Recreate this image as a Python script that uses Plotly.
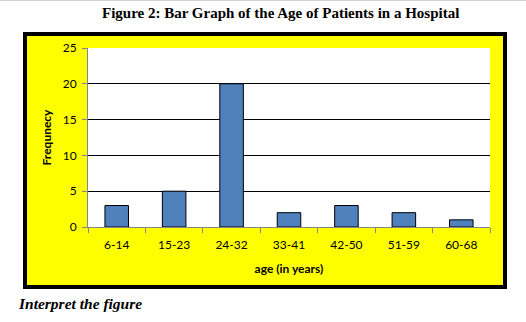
import plotly.graph_objects as go

age_groups = ["6-14", "15-23", "24-32", "33-41", "42-50", "51-59", "60-68"]
frequency = [3, 5, 20, 2, 3, 2, 1]
y_ticks = [0, 5, 10, 15, 20, 25]

W, H = 526, 322
L, R, T, B = 88, 36, 48, 95
pw, ph = W - L - R, H - T - B

def px(x):
    return (x - L) / pw

def py(y):
    return (H - B - y) / ph

fig = go.Figure(go.Bar(
    x=age_groups, y=frequency,
    marker=dict(color="#4F81BD", line=dict(color="black", width=1)),
    width=0.41,
))

fig.update_layout(
    width=W, height=H,
    margin=dict(l=L, r=R, t=T, b=B, pad=0),
    paper_bgcolor="white", plot_bgcolor="white",
    showlegend=False,
    font=dict(family="Lato", size=12, color="black"),
    shapes=[
        dict(type="rect", xref="paper", yref="paper",
             x0=px(25), x1=px(505), y0=py(287), y1=py(34),
             fillcolor="#FFFF00", line=dict(color="black", width=4), layer="below"),
        dict(type="rect", xref="paper", yref="paper",
             x0=0, x1=1, y0=0, y1=1,
             fillcolor="white", line=dict(width=0), layer="below"),
        dict(type="line", xref="paper", yref="paper",
             x0=px(0), x1=px(526), y0=py(0.5), y1=py(0.5),
             line=dict(color="#D0D0D0", width=1)),
    ],
    annotations=[
        dict(text="<b>Figure 2: Bar Graph of the Age of Patients in a Hospital</b>",
             xref="paper", yref="paper", x=px(280), y=py(13),
             xanchor="center", yanchor="middle", showarrow=False,
             font=dict(family="Liberation Serif", size=15, color="black")),
        dict(text="<b><i>Interpret the figure</i></b>",
             xref="paper", yref="paper", x=px(16), y=py(303),
             xanchor="left", yanchor="middle", showarrow=False,
             font=dict(family="Liberation Serif", size=15.5, color="black")),
    ],
)

fig.update_xaxes(
    showline=True, linecolor="#868686", linewidth=1,
    ticks="outside", tickson="boundaries", ticklen=5, tickcolor="#868686",
    ticklabelstandoff=7,
    showgrid=False,
    title=dict(text="<b>age (in years)</b>", font=dict(size=12), standoff=13),
)
fig.update_yaxes(
    range=[0, 25], tickvals=y_ticks,
    showline=True, linecolor="#868686", linewidth=1,
    ticks="outside", ticklen=5, tickcolor="#868686",
    ticklabelstandoff=3,
    showgrid=True, gridcolor="black", gridwidth=1,
    zeroline=False,
    title=dict(text="<b>Frequnecy</b>", font=dict(size=12), standoff=8),
)

fig.write_html("out.html")
